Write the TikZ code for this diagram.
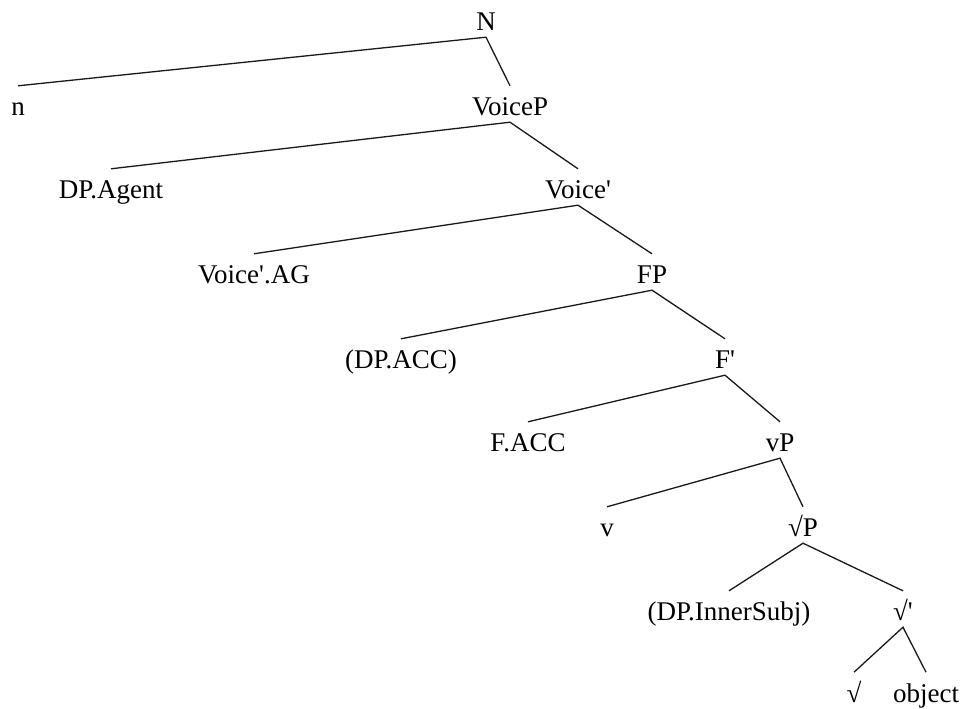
\documentclass[tikz,border=0pt]{standalone}
\usepackage{fontspec}
\setmainfont{Liberation Serif}[Ligatures=TeXOff]
\begin{document}
\begin{tikzpicture}[x=1bp,y=-1bp,
  lbl/.style={inner sep=0pt, text height=29.9bp, text depth=6.1bp, anchor=base,
    font=\fontsize{27bp}{32bp}\selectfont},
  edge/.style={line width=1.3bp, draw=black!90}]
\useasboundingbox (0,0) rectangle (961,709);
\node[lbl] (N)   at (486,30.9) {N};
\node[lbl] (n)   at (18,115.9) {n};
\node[lbl] (VP)  at (510,115.9) {VoiceP};
\node[lbl] (DPA) at (111,198.9) {DP.Agent};
\node[lbl] (Vb)  at (578,198.9) {Voice'};
\node[lbl] (VAG) at (254,283.9) {Voice'.AG};
\node[lbl] (FP)  at (652,283.9) {FP};
\node[lbl] (DPACC) at (401,368.9) {(DP.ACC)};
\node[lbl] (Fb)  at (725,368.9) {F'};
\node[lbl] (FACC) at (528,451.9) {F.ACC};
\node[lbl] (vP)  at (780,451.9) {vP};
\node[lbl] (v)   at (607,536.9) {v};
\node[lbl] (RP)  at (803,536.9) {√P};
\node[lbl] (DPIS) at (729,620.9) {(DP.InnerSubj)};
\node[lbl] (Rb)  at (903,620.9) {√'};
\node[lbl] (R)   at (854,702.3) {√};
\node[lbl] (obj) at (926,702.3) {object};
\draw[edge] (n.north) -- (N.south) -- (VP.north);
\draw[edge] (DPA.north) -- (VP.south) -- (Vb.north);
\draw[edge] (VAG.north) -- (Vb.south) -- (FP.north);
\draw[edge] (DPACC.north) -- (FP.south) -- (Fb.north);
\draw[edge] (FACC.north) -- (Fb.south) -- (vP.north);
\draw[edge] (v.north) -- (vP.south) -- (RP.north);
\draw[edge] (DPIS.north) -- (RP.south) -- (Rb.north);
\draw[edge] (R.north) -- (Rb.south) -- (obj.north);
\end{tikzpicture}
\end{document}
